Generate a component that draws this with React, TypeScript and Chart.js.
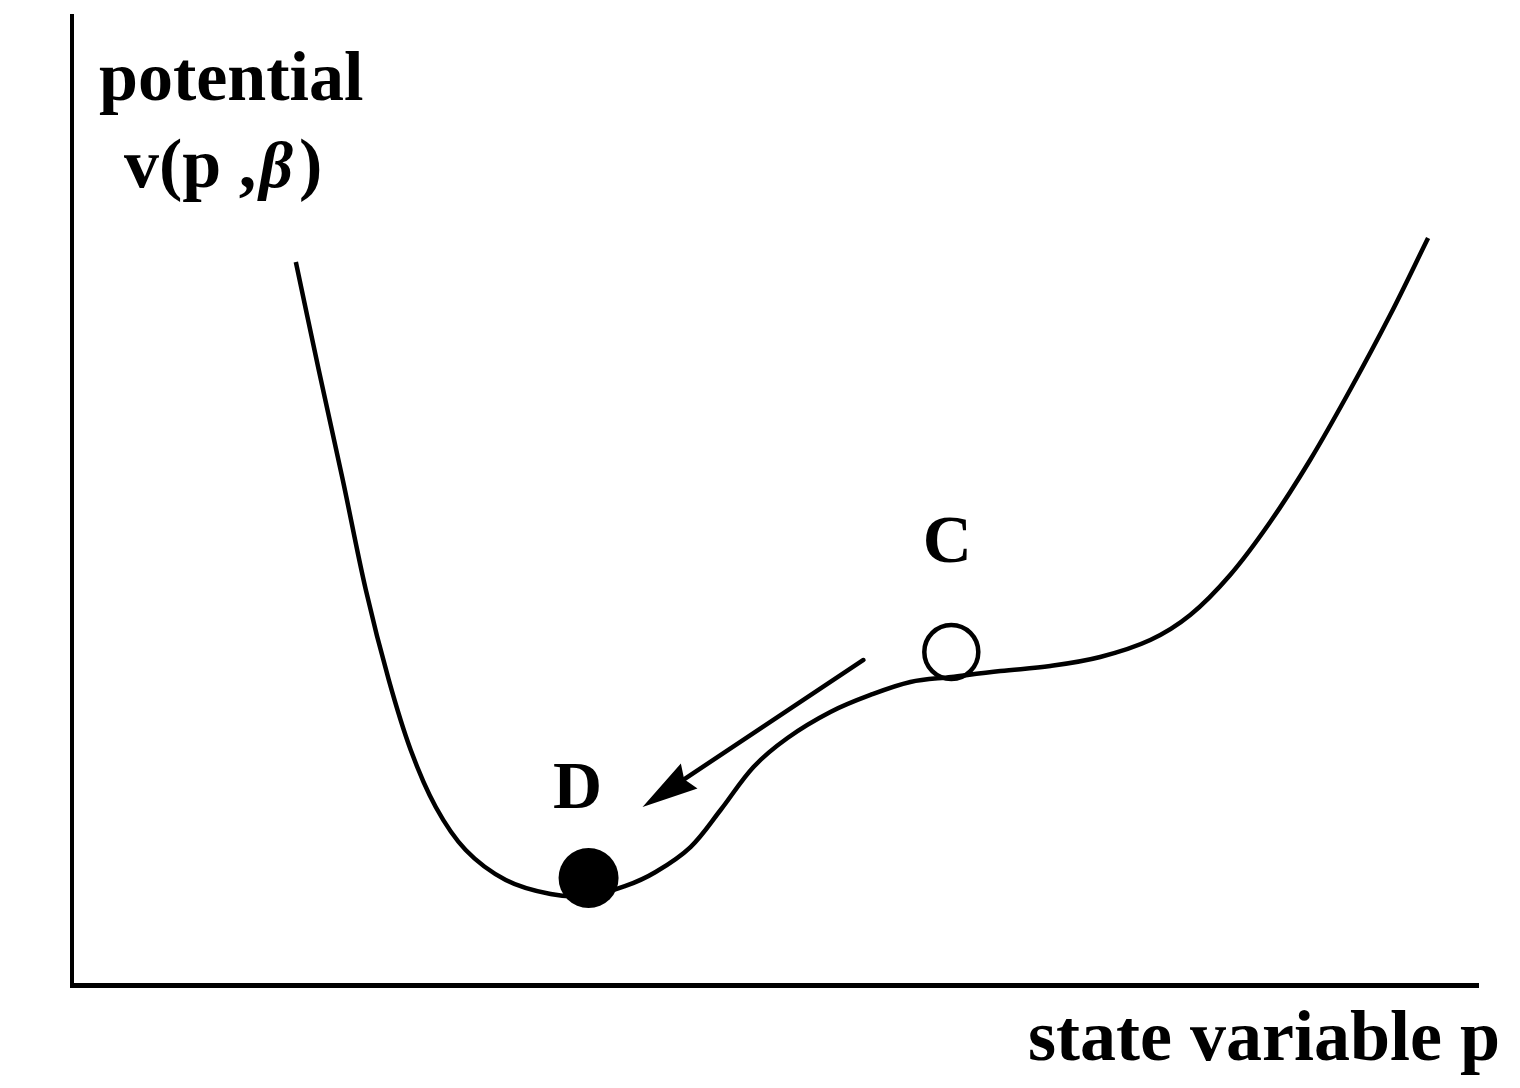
import React, { useEffect, useRef } from "react";
import { Chart, registerables } from "chart.js";

Chart.register(...registerables);

// Potential curve v(p, β) over state variable p (arbitrary units 0..10)
const curveP = [1.592, 1.755, 1.926, 2.09, 2.253, 2.409, 2.587, 2.8, 3.085, 3.404, 3.674, 3.937, 4.151, 4.399, 4.613, 4.847, 5.089, 5.394, 5.679, 5.963, 6.254, 6.603, 6.958, 7.313, 7.669, 7.953, 8.237, 8.522, 8.806, 9.09, 9.375, 9.645];
const curveV = [7.461, 6.347, 5.212, 4.076, 3.148, 2.425, 1.837, 1.393, 1.084, 0.939, 0.918, 1.022, 1.166, 1.424, 1.806, 2.25, 2.549, 2.817, 2.993, 3.127, 3.179, 3.24, 3.292, 3.385, 3.56, 3.818, 4.231, 4.778, 5.418, 6.14, 6.914, 7.709];

// State D (filled ball, stable minimum) and state C (open ball, plateau)
const stateLabels = ["D", "C"];
const stateP = [3.674, 6.254];
const stateV = [1.104, 3.437];
const labelP = [3.596, 6.226];
const labelV = [1.827, 4.365];

// Arrow from C towards D
const arrowFrom = [5.629, 3.354];
const arrowTo = [4.058, 1.837];

const axisTitleX = "state variable p";
const axisTitleY1 = "potential";

const SERIF = "'Liberation Serif', 'DejaVu Serif', serif";

const annotations = {
  id: "annotations",
  afterDatasetsDraw(chart: any) {
    const { ctx, chartArea, scales } = chart;
    const xs = scales.x;
    const ys = scales.y;
    ctx.save();
    ctx.fillStyle = "#000";
    ctx.strokeStyle = "#000";

    // Arrow
    const x1 = xs.getPixelForValue(arrowFrom[0]);
    const y1 = ys.getPixelForValue(arrowFrom[1]);
    const x2 = xs.getPixelForValue(arrowTo[0]);
    const y2 = ys.getPixelForValue(arrowTo[1]);
    const ang = Math.atan2(y2 - y1, x2 - x1);
    const headLen = 56;
    const headHalf = 15;
    const bx = x2 - headLen * Math.cos(ang);
    const by = y2 - headLen * Math.sin(ang);
    ctx.lineWidth = 4.5;
    ctx.lineCap = "round";
    ctx.beginPath();
    ctx.moveTo(x1, y1);
    ctx.lineTo(bx + 8 * Math.cos(ang), by + 8 * Math.sin(ang));
    ctx.stroke();
    ctx.beginPath();
    ctx.moveTo(x2, y2);
    ctx.lineTo(bx - headHalf * Math.sin(ang), by + headHalf * Math.cos(ang));
    ctx.lineTo(bx + 6 * Math.cos(ang), by + 6 * Math.sin(ang));
    ctx.lineTo(bx + headHalf * Math.sin(ang), by - headHalf * Math.cos(ang));
    ctx.closePath();
    ctx.fill();

    // State labels
    ctx.textAlign = "center";
    ctx.textBaseline = "alphabetic";
    ctx.font = `bold 68px ${SERIF}`;
    stateLabels.forEach((t, i) => {
      ctx.fillText(t, xs.getPixelForValue(labelP[i]), ys.getPixelForValue(labelV[i]));
    });

    // Y axis title (two lines)
    ctx.textAlign = "left";
    ctx.font = `bold 70px ${SERIF}`;
    ctx.fillText(axisTitleY1, chartArea.left + 27, chartArea.top + 84);
    let x = chartArea.left + 52;
    const base2 = chartArea.top + 171;
    const parts: [string, string][] = [
      ["v(p ,", `bold 70px ${SERIF}`],
      ["β", `italic bold 66px ${SERIF}`],
      [")", `bold 70px ${SERIF}`],
    ];
    parts.forEach(([t, f]) => {
      ctx.font = f;
      ctx.fillText(t, x, base2);
      x += ctx.measureText(t).width + (t === "β" ? 6 : 3);
    });

    // X axis title
    ctx.textAlign = "right";
    ctx.font = `bold 72px ${SERIF}`;
    ctx.fillText(axisTitleX, chartArea.right + 22, chartArea.bottom + 75);
    ctx.restore();
  },
};

export default function App() {
  const ref = useRef<HTMLCanvasElement | null>(null);
  useEffect(() => {
    if (!ref.current) return;
    const chart = new Chart(ref.current, {
      type: "line",
      data: {
        datasets: [
          {
            label: "potential",
            data: curveP.map((p, i) => ({ x: p, y: curveV[i] })),
            borderColor: "#000",
            borderWidth: 4.5,
            pointRadius: 0,
            tension: 0.35,
            fill: false,
            clip: false,
          } as any,
          {
            label: "D",
            data: [{ x: stateP[0], y: stateV[0] }],
            showLine: false,
            pointRadius: 30,
            pointBackgroundColor: "#000",
            pointBorderColor: "#000",
            pointBorderWidth: 0,
            clip: false,
          } as any,
          {
            label: "C",
            data: [{ x: stateP[1], y: stateV[1] }],
            showLine: false,
            pointRadius: 27,
            pointBackgroundColor: "#fff",
            pointBorderColor: "#000",
            pointBorderWidth: 4.5,
            clip: false,
          } as any,
        ],
      },
      options: {
        animation: false,
        responsive: false,
        events: [],
        layout: { autoPadding: false, padding: { left: 64, top: 16, right: 42, bottom: 95 } },
        plugins: { legend: { display: false }, tooltip: { enabled: false }, title: { display: false } },
        scales: {
          x: {
            type: "linear",
            min: 0,
            max: 10,
            grid: { display: false },
            ticks: { display: false },
            border: { display: true, color: "#000", width: 5 },
          },
          y: {
            type: "linear",
            min: 0,
            max: 10,
            grid: { display: false },
            ticks: { display: false },
            border: { display: true, color: "#000", width: 4 },
          },
        },
      },
      plugins: [annotations],
    });
    return () => chart.destroy();
  }, []);
  return (
    <div style={{ position: "absolute", left: 0, top: 0, width: 1520, height: 1088, background: "#fff" }}>
      <canvas ref={ref} width={1520} height={1088} style={{ width: 1520, height: 1088 }} />
    </div>
  );
}
